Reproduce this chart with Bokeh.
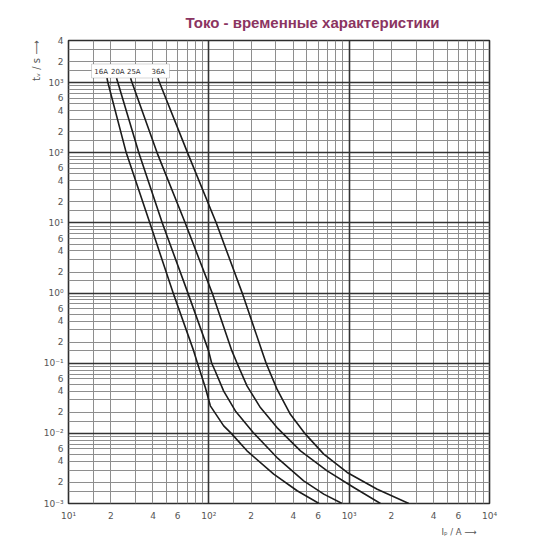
import math
from bokeh.plotting import figure
from bokeh.models import (Range1d, FixedTicker, Grid, CustomJSTickFormatter,
                          BoxAnnotation, Title, ColumnDataSource)
from bokeh.embed import file_html
from bokeh.resources import INLINE
from bokeh.core.properties import value

# ---------------- data ----------------
TITLE = "Токо - временные характеристики"
SERIES = ["16A", "20A", "25A", "36A"]

# current I_p (A) and pre-arcing time t_v (s)
I_16A = [18.8, 19.1, 25.8, 38.0, 55.7, 78, 83, 94.4, 102.5, 127.6, 144.5, 187, 290, 426, 610]
T_16A = [1160, 1000, 100, 10, 1, 0.15, 0.1, 0.045, 0.0247, 0.0128, 0.01, 0.00564, 0.00262, 0.00152, 0.001]

I_20A = [22.0, 22.5, 31.7, 46.6, 71, 99.6, 104.8, 111, 127.6, 154.6, 207, 306, 474, 659, 891]
T_20A = [1160, 1000, 100, 10, 1, 0.15, 0.1, 0.0776, 0.040, 0.0209, 0.0103, 0.00452, 0.0021, 0.00136, 0.001]

I_25A = [27.7, 28.4, 42.8, 67.9, 105.7, 146, 159, 187, 233, 306, 450, 697, 1079, 1671]
T_25A = [1160, 1000, 100, 10, 1, 0.15, 0.1, 0.0475, 0.0233, 0.0121, 0.00564, 0.00292, 0.00169, 0.001]

I_36A = [43.4, 44.6, 70.6, 113, 173, 239, 256, 306, 381, 488, 659, 968, 1585, 2660]
T_36A = [1160, 1000, 100, 10, 1, 0.15, 0.1, 0.0427, 0.0187, 0.00975, 0.00506, 0.00277, 0.0016, 0.001]

X_TICKS = [10, 20, 40, 60, 100, 200, 400, 600, 1000, 2000, 4000, 6000, 10000]
X_TICK_LABELS = ["10¹", "2", "4", "6", "10²", "2", "4", "6", "10³", "2", "4", "6", "10⁴"]
Y_TICKS = [0.001, 0.002, 0.004, 0.006, 0.01, 0.02, 0.04, 0.06, 0.1, 0.2, 0.4, 0.6,
           1, 2, 4, 6, 10, 20, 40, 60, 100, 200, 400, 600, 1000, 2000, 4000]
Y_TICK_LABELS = ["10⁻³", "2", "4", "6", "10⁻²", "2", "4", "6", "10⁻¹", "2", "4", "6",
                 "10⁰", "2", "4", "6", "10¹", "2", "4", "6", "10²", "2", "4", "6", "10³", "2", "4"]
X_DECADES = [10, 100, 1000, 10000]
Y_DECADES = [0.001, 0.01, 0.1, 1, 10, 100, 1000]
GRID_MANTISSAS = [1.5, 2, 3, 4, 5, 6, 7, 8, 9]

X_LABEL = "Iₚ / A ⟶"
Y_LABEL = "tᵥ / s ⟶"

# ---------------- layout (page pixels) ----------------
W, H = 550, 550
X_MIN, X_MAX = 10, 10000
Y_MIN, Y_MAX = 0.001, 4000
FRAME_L, FRAME_R, FRAME_T, FRAME_B = 68, 489, 40, 503


def px_x(px):
    span = math.log10(X_MAX / X_MIN)
    return X_MIN * 10 ** (span * (px - FRAME_L) / (FRAME_R - FRAME_L))


def px_y(py):
    span = math.log10(Y_MAX / Y_MIN)
    return Y_MIN * 10 ** (span * (FRAME_B - py) / (FRAME_B - FRAME_T))


p = figure(width=W, height=H, x_axis_type="log", y_axis_type="log",
           x_range=Range1d(X_MIN, X_MAX), y_range=Range1d(Y_MIN, Y_MAX),
           output_backend="svg", toolbar_location=None,
           min_border_left=FRAME_L, min_border_right=W - FRAME_R,
           min_border_top=FRAME_T, min_border_bottom=H - FRAME_B,
           background_fill_color="white", border_fill_color="white",
           outline_line_color="#2e2e2e", outline_line_width=1.6)

# title
p.title.text = TITLE
p.title.align = "left"
p.title.offset = 117
p.title.standoff = 19
p.title.text_font = "Liberation Sans"
p.title.text_font_style = "bold"
p.title.text_font_size = "15px"
p.title.text_color = "#8B3461"

# grids
minor_x = [m * d for d in X_DECADES[:-1] for m in GRID_MANTISSAS]
minor_y = [m * d for d in Y_DECADES for m in GRID_MANTISSAS if m * d < Y_MAX]
p.xgrid.ticker = FixedTicker(ticks=minor_x)
p.ygrid.ticker = FixedTicker(ticks=minor_y)
for g in (p.xgrid[0], p.ygrid[0]):
    g.grid_line_color = "#8e8e8e"
    g.grid_line_width = 1
p.add_layout(Grid(dimension=0, ticker=FixedTicker(ticks=X_DECADES),
                  grid_line_color="#333333", grid_line_width=1.6))
p.add_layout(Grid(dimension=1, ticker=FixedTicker(ticks=Y_DECADES),
                  grid_line_color="#333333", grid_line_width=1.6))

# axes
JS = """
let best = 0, bd = Infinity;
for (let i = 0; i < tick_vals.length; i++) {
  const d = Math.abs(Math.log(tick) - Math.log(tick_vals[i]));
  if (d < bd) { bd = d; best = i; }
}
return tick_labels[best];
"""
p.xaxis.ticker = FixedTicker(ticks=X_TICKS)
p.yaxis.ticker = FixedTicker(ticks=Y_TICKS)
p.xaxis.formatter = CustomJSTickFormatter(args=dict(tick_vals=X_TICKS, tick_labels=X_TICK_LABELS), code=JS)
p.yaxis.formatter = CustomJSTickFormatter(args=dict(tick_vals=Y_TICKS, tick_labels=Y_TICK_LABELS), code=JS)
for ax in (p.xaxis[0], p.yaxis[0]):
    ax.axis_line_color = None
    ax.major_tick_line_color = None
    ax.minor_tick_line_color = None
    ax.major_tick_out = 0
    ax.major_tick_in = 0
    ax.minor_tick_out = 0
    ax.minor_tick_in = 0
    ax.major_label_text_font = "DejaVu Sans"
    ax.major_label_text_font_size = "9px"
    ax.major_label_text_color = "#555555"
p.xaxis.major_label_standoff = 7
p.yaxis.major_label_standoff = 5

# axis names as side titles
p.add_layout(Title(text=X_LABEL, align="right", offset=13, standoff=2,
                   text_font="DejaVu Sans", text_font_style="normal",
                   text_font_size="8.5px", text_color="#555555"), "below")
p.add_layout(Title(text=Y_LABEL, align="right", offset=0, standoff=-3,
                   text_font="DejaVu Sans", text_font_style="normal",
                   text_font_size="10px", text_color="#555555"), "left")

# legend box
p.add_layout(BoxAnnotation(left=px_x(91), right=px_x(169), top=px_y(63.5), bottom=px_y(77.5),
                           fill_color="white", fill_alpha=1.0, line_color="#777777",
                           line_width=1, level="underlay"))

# curves
for I, T in ((I_16A, T_16A), (I_20A, T_20A), (I_25A, T_25A), (I_36A, T_36A)):
    src = ColumnDataSource(dict(I=I, t=T))
    p.line("I", "t", source=src, line_color="#1c1c1c", line_width=1.6, line_join="round")

label_px = [100.7, 117.3, 133.3, 157.8]
p.text(x=[px_x(v) for v in label_px], y=[px_y(71)] * len(SERIES), text=SERIES,
       text_font=value("DejaVu Sans"), text_font_size="7px", text_color="#333333",
       text_align="center", text_baseline="middle")

open("out.html", "w").write(file_html(p, INLINE))
